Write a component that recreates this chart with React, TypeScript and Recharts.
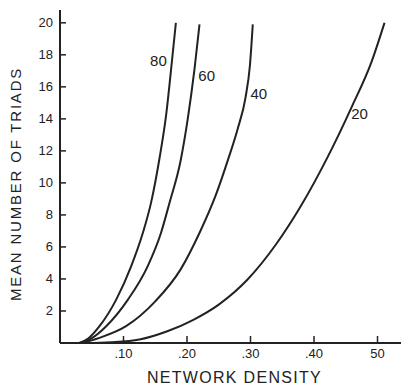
import React from 'react'
import { LineChart, Line, XAxis, YAxis, ReferenceDot } from 'recharts'

// network size -> (density, mean number of triads)
const curve80 = [
  { x: 0.03, y: 0 }, { x: 0.045, y: 0.3 }, { x: 0.0622, y: 1.05 }, { x: 0.0885, y: 2.71 },
  { x: 0.112, y: 4.79 }, { x: 0.1304, y: 6.87 }, { x: 0.1436, y: 8.8 }, { x: 0.1567, y: 11.54 },
  { x: 0.167, y: 14.2 }, { x: 0.1767, y: 17.77 }, { x: 0.1825, y: 20 },
]
const curve60 = [
  { x: 0.032, y: 0 }, { x: 0.05, y: 0.3 }, { x: 0.0728, y: 1.05 }, { x: 0.107, y: 2.71 },
  { x: 0.138, y: 4.79 }, { x: 0.159, y: 6.87 }, { x: 0.1724, y: 8.75 }, { x: 0.19, y: 11.4 },
  { x: 0.201, y: 13.95 }, { x: 0.2118, y: 17.1 }, { x: 0.2197, y: 19.9 },
]
const curve40 = [
  { x: 0.035, y: 0 }, { x: 0.062, y: 0.32 }, { x: 0.104, y: 1.05 }, { x: 0.15, y: 2.6 },
  { x: 0.19, y: 4.6 }, { x: 0.22, y: 6.9 }, { x: 0.245, y: 9.2 }, { x: 0.265, y: 11.5 },
  { x: 0.28, y: 13.4 }, { x: 0.292, y: 15.3 }, { x: 0.299, y: 17.3 }, { x: 0.3036, y: 19.9 },
]
const curve20 = [
  { x: 0.04, y: 0 }, { x: 0.08, y: 0.05 }, { x: 0.125, y: 0.22 }, { x: 0.17, y: 0.75 },
  { x: 0.21, y: 1.45 }, { x: 0.25, y: 2.4 }, { x: 0.295, y: 3.95 }, { x: 0.34, y: 6.15 },
  { x: 0.38, y: 8.6 }, { x: 0.42, y: 11.5 }, { x: 0.46, y: 14.8 }, { x: 0.49, y: 17.5 },
  { x: 0.511, y: 20 },
]

const series = [
  { name: '80', data: curve80, labelAt: { x: 0.155, y: 17.66 } },
  { name: '60', data: curve60, labelAt: { x: 0.231, y: 16.7 } },
  { name: '40', data: curve40, labelAt: { x: 0.313, y: 15.6 } },
  { name: '20', data: curve20, labelAt: { x: 0.4717, y: 14.34 } },
]

const xTicks = [0.1, 0.2, 0.3, 0.4, 0.5]
const xTickLabels = ['.10', '.20', '.30', '.40', '50']
const yTicks = [2, 4, 6, 8, 10, 12, 14, 16, 18, 20]

const ink = '#222'
const font = '"Liberation Sans", Arial, sans-serif'

// inward tick marks, length in px
const tickLen = 7

const YTick = ({ x, y, payload }: any) => (
  <text x={x} y={y} textAnchor="end" dominantBaseline="central" fontSize={13} fill={ink} fontFamily={font}>
    {payload.value}
  </text>
)

const XTick = ({ x, y, payload }: any) => (
  <text x={x} y={y + 10} textAnchor="middle" fontSize={13} fill={ink} fontFamily={font}>
    {xTickLabels[xTicks.indexOf(payload.value)]}
  </text>
)

// tick marks drawn as a dot shape on a hidden series sitting on each axis
const yTickData = yTicks.map(v => ({ x: 0, y: v }))
const xTickData = xTicks.map(v => ({ x: v, y: 0 }))

const YMark = ({ cx, cy }: any) => (
  <path d={`M${cx},${cy}h${tickLen - 1}`} stroke={ink} strokeWidth={1.5} fill="none" />
)
const XMark = ({ cx, cy }: any) => (
  <path d={`M${cx},${cy}v${-tickLen}`} stroke={ink} strokeWidth={1.5} fill="none" />
)

export default function App() {
  return (
    <div style={{ position: 'absolute', left: 0, top: 0, background: '#fff' }}>
      <LineChart width={401} height={387} margin={{ top: 10, right: 0, bottom: 0, left: 0 }}>
        <XAxis
          type="number"
          dataKey="x"
          domain={[0, 0.537]}
          ticks={xTicks}
          tick={<XTick />}
          tickLine={false}
          tickSize={0}
          tickMargin={5}
          axisLine={{ stroke: ink, strokeWidth: 2 }}
          height={44}
          allowDataOverflow
          label={{
            value: 'NETWORK DENSITY',
            position: 'insideBottom',
            offset: 4,
            dx: 4,
            fontSize: 16,
            fill: ink,
            fontFamily: font,
            letterSpacing: 1.3,
          }}
        />
        <YAxis
          type="number"
          domain={[0, 20.8]}
          ticks={yTicks}
          tick={<YTick />}
          tickLine={false}
          tickSize={0}
          tickMargin={7}
          axisLine={{ stroke: ink, strokeWidth: 2 }}
          width={60}
          allowDataOverflow
          label={{
            value: 'MEAN NUMBER OF TRIADS',
            content: () => (
              <text
                x={0}
                y={0}
                transform="translate(21,184) rotate(-90)"
                textAnchor="middle"
                fontSize={15}
                letterSpacing={1.8}
                fill={ink}
                fontFamily={font}
              >
                MEAN NUMBER OF TRIADS
              </text>
            ),
          }}
        />
        <Line
          data={yTickData}
          dataKey="y"
          stroke="none"
          dot={<YMark />}
          activeDot={false}
          isAnimationActive={false}
        />
        <Line
          data={xTickData}
          dataKey="y"
          stroke="none"
          dot={<XMark />}
          activeDot={false}
          isAnimationActive={false}
        />
        {series.map(s => (
          <Line
            key={s.name}
            data={s.data}
            dataKey="y"
            type="monotone"
            stroke={ink}
            strokeWidth={2}
            dot={false}
            isAnimationActive={false}
          />
        ))}
        {series.map(s => (
          <ReferenceDot
            key={'l' + s.name}
            x={s.labelAt.x}
            y={s.labelAt.y}
            r={0}
            stroke="none"
            fill="none"
            label={{ value: s.name, position: 'center', fontSize: 15, fill: ink, fontFamily: font }}
          />
        ))}
      </LineChart>
    </div>
  )
}
